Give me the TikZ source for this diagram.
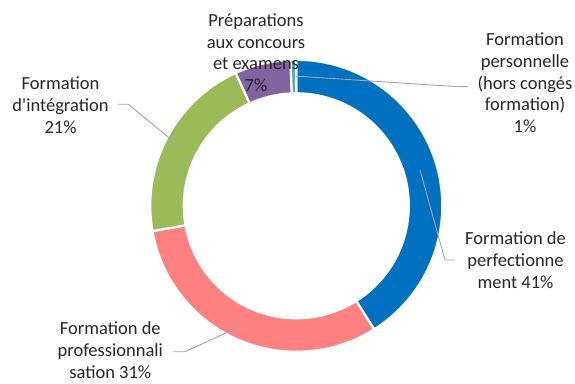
\documentclass[tikz,border=0pt]{standalone}
\usepackage{fontspec}
\setmainfont{Carlito}
\definecolor{cblue}{HTML}{0070C0}
\definecolor{cpink}{HTML}{FF8080}
\definecolor{cgreen}{HTML}{9BBB59}
\definecolor{cpurple}{HTML}{8064A2}
\definecolor{cteal}{HTML}{4BACC6}
\definecolor{cgray}{HTML}{A6A6A6}
\newcommand{\ringslice}[3]{%
  \fill[#3, draw=white, line width=2.2pt]
    ([shift={(C)}]#1:146) arc[start angle=#1, end angle=#2, radius=146]
    -- ([shift={(C)}]#2:112.5) arc[start angle=#2, end angle=#1, radius=112.5] -- cycle;}
\begin{document}
\begin{tikzpicture}[x=1pt,y=1pt,
  lab/.style={align=center, inner sep=0pt, anchor=base, text=black!85,
    font=\fontsize{18.5}{21.7}\selectfont},
  leader/.style={draw=cgray, line width=0.9pt}]
\useasboundingbox (0,0) rectangle (575,383);
\coordinate (C) at (296.3,177.2);
% ring
\ringslice{90}{-57.8}{cblue}
\ringslice{-57.8}{-170}{cpink}
\ringslice{-170}{-245.5}{cgreen}
\ringslice{114.5}{92.3}{cpurple}
\ringslice{92.3}{90}{cteal}
% leader anchor coordinates
\coordinate (gS) at (180,236.3);
\coordinate (gM) at (128.3,278.7);
\coordinate (gE) at (118.3,278.7);
\coordinate (tS) at (294,307);
\coordinate (tM) at (455,296.5);
\coordinate (tE) at (468,296.3);
\coordinate (bS) at (420,213);
\coordinate (bM) at (445,123);
\coordinate (bE) at (455,123);
\coordinate (pS) at (243.3,58);
\coordinate (pM) at (185,31.3);
\coordinate (pE) at (173.3,31.3);
\draw[leader] (gS) -- (gM) -- (gE);
\draw[leader] (tS) -- (tM) -- (tE);
\draw[leader] (bS) -- (bM) -- (bE);
\draw[leader] (pS) -- (pM) -- (pE);
% labels (anchor = baseline of last line)
\node[lab] (prep) at (256,291.5) {Préparations\\aux concours\\et examens\\7\%};
\node[lab] (integ) at (60.5,249.7) {Formation\\d\textquotesingle intégration\\21\%};
\node[lab] (pers) at (525,250.3) {Formation\\personnelle\\(hors congés\\formation)\\1\%};
\node[lab] (perf) at (515.5,94.7) {Formation de\\perfectionne\\ment 41\%};
\node[lab] (prof) at (110.3,4.7) {Formation de\\professionnali\\sation 31\%};
\end{tikzpicture}
\end{document}
